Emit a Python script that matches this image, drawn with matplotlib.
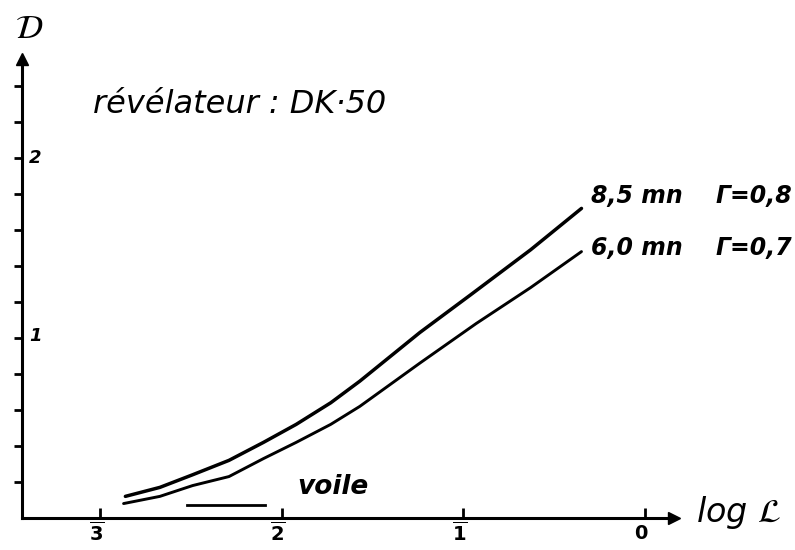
import matplotlib.pyplot as plt

# log L positions and densities
log_l_85 = [-2.86, -2.67, -2.49, -2.29, -2.10, -1.92, -1.73, -1.57, -1.24, -0.96, -0.63, -0.35]
d_85 = [0.12, 0.17, 0.24, 0.32, 0.42, 0.52, 0.64, 0.76, 1.03, 1.24, 1.49, 1.72]

log_l_60 = [-2.87, -2.67, -2.49, -2.29, -2.10, -1.92, -1.73, -1.57, -1.24, -0.93, -0.63, -0.35]
d_60 = [0.08, 0.12, 0.18, 0.23, 0.33, 0.42, 0.52, 0.62, 0.86, 1.08, 1.28, 1.48]

# fog level (voile)
voile_l = [-2.52, -2.09]
voile_d = [0.07, 0.07]

x_ticks = [-3, -2, -1, 0]
x_labels = [r'$\overline{\mathbf{3}}$', r'$\overline{\mathbf{2}}$', r'$\overline{\mathbf{1}}$', r'$\mathbf{0}$']
y_ticks = [0.2, 0.4, 0.6, 0.8, 1.0, 1.2, 1.4, 1.6, 1.8, 2.0, 2.2, 2.4]

fig = plt.figure(figsize=(7.95, 5.5), dpi=100)
ax = fig.add_axes([0, 0, 1, 1])
ax.set_xlim(-3.55, 0.825)
ax.set_ylim(-0.178, 2.878)

# axes drawn like the sketch
for s in ['top', 'right']:
    ax.spines[s].set_visible(False)
ax.spines['left'].set_position(('data', -3.43))
ax.spines['bottom'].set_position(('data', 0.0))
ax.spines['left'].set_bounds(0, 2.55)
ax.spines['bottom'].set_bounds(-3.43, 0.16)
ax.spines['left'].set_linewidth(2.2)
ax.spines['bottom'].set_linewidth(2.2)
ax.plot([-3.43], [2.55], marker='^', color='black', markersize=9, clip_on=False)
ax.plot([0.16], [0.0], marker='>', color='black', markersize=9, clip_on=False)

ax.set_yticks(y_ticks)
ax.set_yticklabels([])
ax.tick_params(axis='y', direction='out', length=6, width=2)
ax.set_xticks(x_ticks)
ax.set_xticklabels([])
ax.tick_params(axis='x', direction='in', length=7, width=2)

for x, lab in zip(x_ticks, x_labels):
    ax.text(x - 0.02, -0.085, lab, fontsize=14, ha='center', va='center')
ax.text(-3.39, 2.0, '2', fontsize=13, fontweight='bold', ha='left', va='center', fontstyle='italic')
ax.text(-3.39, 1.01, '1', fontsize=13, fontweight='bold', ha='left', va='center', fontstyle='italic')

ax.text(-3.39, 2.72, r'$\mathbf{\mathcal{D}}$', fontsize=24, ha='center', va='center')
ax.text(0.28, 0.03, r'$log\ \mathcal{L}$', fontsize=24, ha='left', va='center')

# courbes
ax.plot(log_l_85, d_85, color='black', linewidth=2.5, solid_capstyle='round', solid_joinstyle='round')
ax.plot(log_l_60, d_60, color='black', linewidth=2.1, solid_capstyle='round', solid_joinstyle='round')
ax.plot(voile_l, voile_d, color='black', linewidth=2.0)

ax.text(-3.04, 2.3, 'révélateur : DK·50', fontsize=23, fontstyle='italic',
        ha='left', va='center')
ax.text(-0.30, 1.79, '8,5 mn', fontsize=17, fontstyle='italic', fontweight='bold',
        ha='left', va='center')
ax.text(0.81, 1.79, 'Γ=0,8', fontsize=17, fontstyle='italic', fontweight='bold',
        ha='right', va='center')
ax.text(-0.30, 1.5, '6,0 mn', fontsize=17, fontstyle='italic', fontweight='bold',
        ha='left', va='center')
ax.text(0.81, 1.5, 'Γ=0,7', fontsize=17, fontstyle='italic', fontweight='bold',
        ha='right', va='center')
ax.text(-1.72, 0.17, 'voile', fontsize=19, fontstyle='italic', fontweight='bold',
        ha='center', va='center')

fig.savefig('out.png', dpi=100)
